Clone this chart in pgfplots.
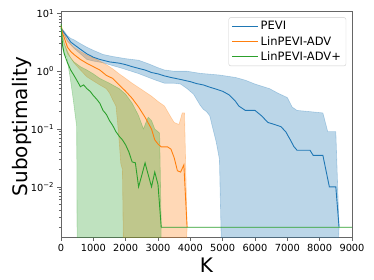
\documentclass[border=0pt]{standalone}
\usepackage{fontspec}
\setmainfont{DejaVu Sans}
\usepackage{pgfplots}
\pgfplotsset{compat=1.18}
\definecolor{tblue}{HTML}{1F77B4}
\definecolor{torange}{HTML}{FF7F0E}
\definecolor{tgreen}{HTML}{2CA02C}
\begin{document}
\begin{tikzpicture}
\path[use as bounding box] (-61pt,-42.7pt) rectangle (313pt,237.3pt);
\begin{axis}[
  at={(0pt,0pt)}, anchor=south west,
  scale only axis, width=291pt, height=225.8pt,
  ymode=log, xmin=0, xmax=9000, ymin=0.00134, ymax=10.8,
  xtick={0,1000,2000,3000,4000,5000,6000,7000,8000,9000},
  xticklabels={0,1000,2000,3000,4000,5000,6000,7000,8000,9000},
  scaled x ticks=false,
  ytick={0.01,0.1,1,10},
  yticklabels={10\textsuperscript{−2},10\textsuperscript{−1},10\textsuperscript{0},10\textsuperscript{1}},
  minor ytick={0.002,0.003,0.004,0.005,0.006,0.007,0.008,0.009,0.02,0.03,0.04,0.05,0.06,0.07,0.08,0.09,0.2,0.3,0.4,0.5,0.6,0.7,0.8,0.9,2,3,4,5,6,7,8,9},
  tick align=outside, xtick pos=bottom, ytick pos=left,
  major tick length=3.5pt, minor tick length=2pt,
  /pgf/number format/assume math mode=true,
  ticklabel style={font=\fontsize{9.8}{11}\selectfont},
  axis line style={black!60, line width=0.5pt},
  every tick/.style={black!60, line width=0.5pt},
  xlabel={K}, ylabel={Suboptimality},
  label style={font=\fontsize{20}{24}\selectfont},
  xlabel style={at={(axis description cs:0.5,-0.125)}, anchor=center},
  ylabel style={at={(axis description cs:-0.134,0.49)}, anchor=center},
  legend style={at={(0.980,0.974)}, anchor=north east, draw=black!20, rounded corners=2pt,
    font=\fontsize{11.5}{13}\selectfont, row sep=1pt, inner xsep=3pt, inner ysep=2pt},
  legend cell align=left,
  legend image code/.code={\draw[#1] (0pt,0pt) -- (26pt,0pt);},
  band/.style={fill=#1, fill opacity=0.3, draw=#1, draw opacity=0.3, line width=0.6pt, line join=round, forget plot},
]
% bands (drawn below all lines, as matplotlib does)
\addplot[band=tblue] coordinates {
(0,5.6)(100,4.9)(200,4.1)(300,3.7)(400,3.5)(600,3.0)(800,2.6)(1000,2.3)(1300,1.95)(1600,1.8)(2000,1.65)(2400,1.55)(2700,1.35)(3000,1.15)(3200,1.05)(3500,1.0)(3900,1.0)(4300,0.92)(4900,0.86)(5400,0.78)(5700,0.70)(6000,0.6)(6450,0.5)(6700,0.42)(7000,0.35)(7150,0.24)(7300,0.21)(7700,0.2)(8100,0.19)(8250,0.09)(8500,0.09)(8600,0.002)
(8500,0.0001)(5000,0.0001)(4900,0.03)(4800,0.06)(4700,0.1)(4600,0.17)(4500,0.2)(4400,0.22)(4300,0.26)(4100,0.4)(3900,0.5)(3700,0.6)(3500,0.62)(3200,0.62)(2900,0.71)(2400,0.91)(1900,1.12)(1600,1.25)(1300,1.4)(1000,1.5)(800,1.6)(600,2.0)(400,2.5)(200,3.3)(100,4.2)(0,5.4)} -- cycle;
\addplot[band=torange] coordinates {
(0,6.2)(100,4.6)(200,3.4)(400,2.6)(600,2.2)(800,1.9)(1000,1.7)(1200,1.5)(1400,1.3)(1600,1.1)(1800,0.9)(2000,0.75)(2200,0.62)(2500,0.48)(2800,0.37)(3000,0.3)(3200,0.25)(3400,0.16)(3500,0.13)(3650,0.12)(3750,0.19)(3820,0.19)(3900,0.002)
(3820,0.0001)(1950,0.0001)(1900,0.02)(1850,0.025)(1800,0.06)(1750,0.13)(1700,0.25)(1600,0.32)(1500,0.42)(1400,0.5)(1200,0.58)(1000,0.68)(800,0.8)(600,1.05)(400,1.4)(300,1.7)(200,2.0)(100,3.0)(0,5.8)} -- cycle;
\addplot[band=tgreen] coordinates {
(0,6.5)(50,4.0)(100,3.0)(200,2.2)(300,1.7)(400,1.45)(600,1.2)(800,1.05)(1000,0.9)(1200,0.75)(1500,0.62)(1800,0.5)(2000,0.4)(2200,0.28)(2400,0.17)(2550,0.1)(2650,0.14)(2700,0.16)(2800,0.14)(2900,0.1)(3000,0.09)(3050,0.085)(3100,0.002)
(3050,0.0001)(505,0.0001)(485,0.11)(380,0.32)(280,0.8)(175,1.78)(100,2.0)(50,2.5)(0,6.0)} -- cycle;
% PEVI (its floor segment from 8600 on lies under the green line)
\addplot[tblue, line width=0.9pt, mark=none] coordinates {
(0,5.5)(100,4.6)(200,3.9)(300,3.2)(400,2.9)(600,2.4)(800,2.0)(1000,1.75)(1200,1.6)(1500,1.45)(1800,1.38)(2000,1.3)(2200,1.2)(2400,1.12)(2600,1.05)(2800,0.95)(3000,0.9)(3200,0.83)(3400,0.78)(3600,0.74)(3800,0.70)(4000,0.66)(4200,0.61)(4400,0.58)(4600,0.53)(4800,0.49)(5000,0.45)(5200,0.39)(5400,0.30)(5500,0.25)(5700,0.21)(6000,0.21)(6200,0.17)(6400,0.13)(6600,0.12)(6800,0.11)(6950,0.09)(7100,0.064)(7200,0.05)(7300,0.043)(7700,0.043)(7800,0.035)(8100,0.035)(8300,0.010)(8500,0.010)(8600,0.002)};
\addlegendentry{PEVI}
% LinPEVI-ADV
\addplot[torange, line width=0.9pt, mark=none] coordinates {
(0,6.0)(50,4.5)(100,3.8)(200,2.6)(300,2.2)(400,1.95)(600,1.6)(800,1.37)(1000,1.2)(1200,1.05)(1400,0.85)(1600,0.75)(1800,0.58)(2000,0.45)(2200,0.34)(2400,0.24)(2600,0.16)(2800,0.1)(2900,0.065)(3000,0.055)(3100,0.049)(3300,0.049)(3400,0.045)(3500,0.032)(3600,0.019)(3700,0.018)(3800,0.024)(3900,0.002)};
\addlegendentry{LinPEVI-ADV}
% LinPEVI-ADV+
\addplot[tgreen, line width=0.9pt, mark=none] coordinates {
(0,6.5)(50,2.8)(100,2.0)(200,1.4)(300,1.05)(400,0.85)(500,0.68)(600,0.54)(700,0.58)(800,0.5)(900,0.45)(1000,0.38)(1100,0.33)(1200,0.28)(1300,0.21)(1400,0.18)(1500,0.14)(1600,0.115)(1700,0.09)(1800,0.075)(1900,0.065)(2000,0.053)(2100,0.04)(2200,0.027)(2300,0.026)(2400,0.01)(2500,0.016)(2600,0.026)(2700,0.016)(2800,0.01)(2900,0.018)(3000,0.011)(3100,0.002)(9000,0.002)};
\addlegendentry{LinPEVI-ADV+}
\end{axis}
\end{tikzpicture}
\end{document}
